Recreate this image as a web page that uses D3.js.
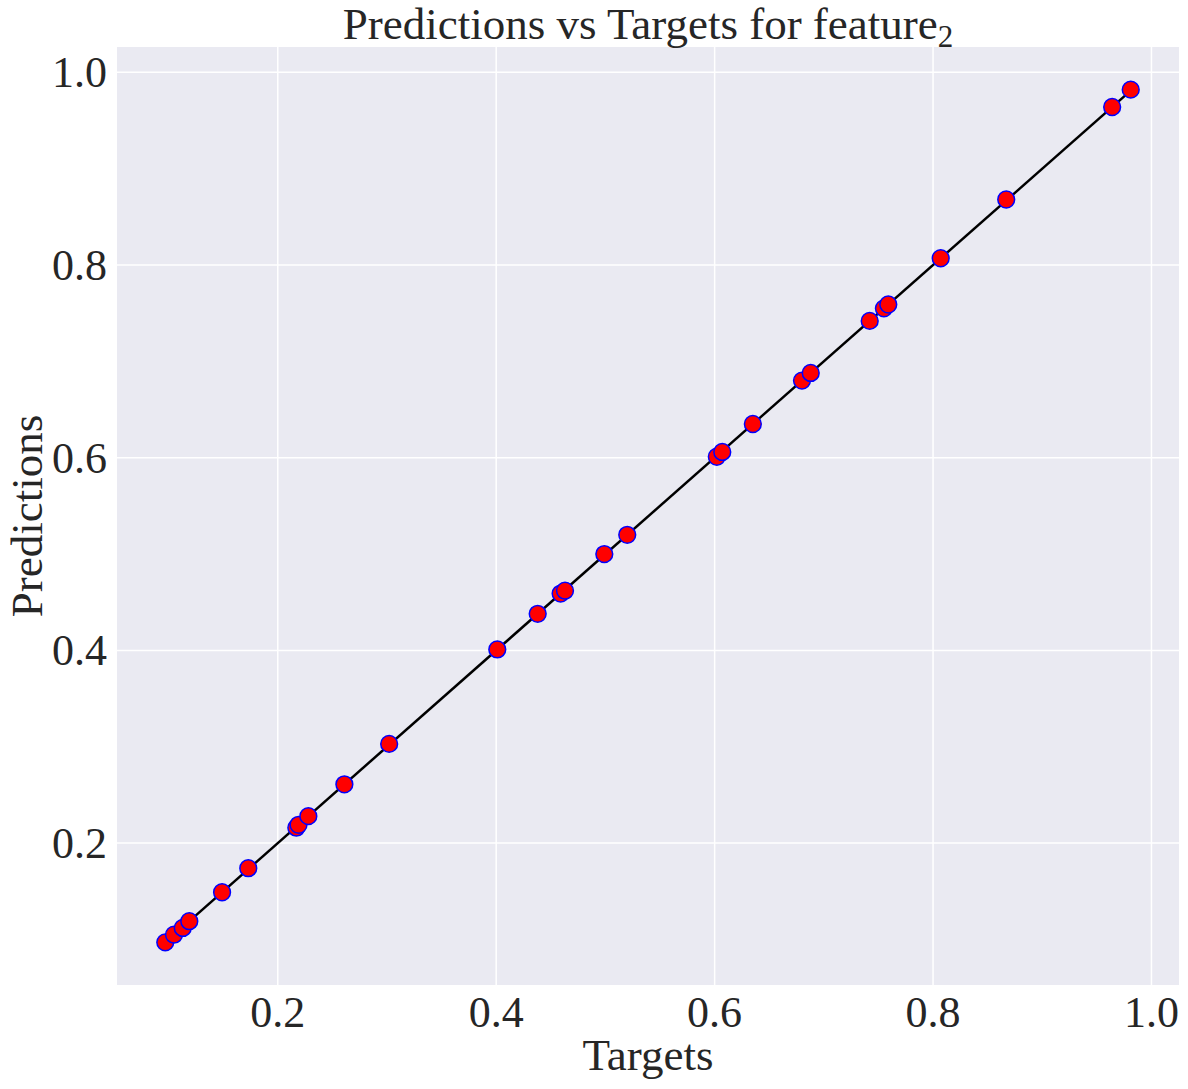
<!DOCTYPE html>
<html>
<head>
<meta charset="utf-8">
<script src="https://cdn.jsdelivr.net/npm/d3@7"></script>
<style>
  body { margin: 0; background: #fff; }
  text { font-family: "Liberation Serif", "DejaVu Serif", serif; fill: #262626; }
</style>
</head>
<body>
<div id="chart"></div>
<script>
// values
var targets = [0.097, 0.105, 0.113, 0.119, 0.149, 0.173, 0.217, 0.219, 0.228, 0.261,
  0.302, 0.401, 0.438, 0.459, 0.463, 0.499, 0.520, 0.602, 0.607, 0.635,
  0.680, 0.688, 0.742, 0.755, 0.759, 0.807, 0.867, 0.964, 0.981];
var predictions = [0.097, 0.105, 0.112, 0.119, 0.149, 0.174, 0.216, 0.219, 0.228, 0.261,
  0.303, 0.401, 0.438, 0.459, 0.462, 0.500, 0.520, 0.601, 0.606, 0.635,
  0.680, 0.688, 0.742, 0.755, 0.759, 0.807, 0.868, 0.964, 0.982];
var xTicks = [0.2, 0.4, 0.6, 0.8, 1.0];
var yTicks = [0.2, 0.4, 0.6, 0.8, 1.0];

var width = 1188, height = 1089;
var margin = {top: 47, right: 9, bottom: 104, left: 117};
var w = width - margin.left - margin.right;
var h = height - margin.top - margin.bottom;

var svg = d3.select("#chart").append("svg")
  .attr("width", width)
  .attr("height", height);

// matplotlib style 5% padding
var xExt = d3.extent(targets), yExt = d3.extent(predictions);
var xPad = (xExt[1] - xExt[0]) * 0.05, yPad = (yExt[1] - yExt[0]) * 0.05;

var x = d3.scaleLinear().domain([xExt[0] - xPad, xExt[1] + xPad]).range([0, w]);
var y = d3.scaleLinear().domain([yExt[0] - yPad, yExt[1] + yPad]).range([h, 0]);

var g = svg.append("g")
  .attr("transform", "translate(" + margin.left + "," + margin.top + ")");

g.append("rect")
  .attr("width", w)
  .attr("height", h)
  .attr("fill", "#eaeaf2");

// grid
g.selectAll(".vgrid").data(xTicks).enter().append("line")
  .attr("x1", function(d) { return x(d); })
  .attr("x2", function(d) { return x(d); })
  .attr("y1", 0).attr("y2", h)
  .attr("stroke", "#fff").attr("stroke-width", 1.5);

g.selectAll(".hgrid").data(yTicks).enter().append("line")
  .attr("y1", function(d) { return y(d); })
  .attr("y2", function(d) { return y(d); })
  .attr("x1", 0).attr("x2", w)
  .attr("stroke", "#fff").attr("stroke-width", 1.5);

// tick labels
g.selectAll(".xlab").data(xTicks).enter().append("text")
  .attr("x", function(d) { return x(d); })
  .attr("y", h + 42)
  .attr("text-anchor", "middle")
  .style("font-size", "44px")
  .text(function(d) { return d.toFixed(1); });

g.selectAll(".ylab").data(yTicks).enter().append("text")
  .attr("x", -10)
  .attr("y", function(d) { return y(d) + 15; })
  .attr("text-anchor", "end")
  .style("font-size", "44px")
  .text(function(d) { return d.toFixed(1); });

// identity line
var line = d3.line()
  .x(function(d) { return x(d); })
  .y(function(d) { return y(d); });

g.append("path")
  .datum(xExt)
  .attr("d", line)
  .attr("fill", "none")
  .attr("stroke", "#000")
  .attr("stroke-width", 2.5);

// points
g.selectAll("circle").data(targets).enter().append("circle")
  .attr("cx", function(d) { return x(d); })
  .attr("cy", function(d, i) { return y(predictions[i]); })
  .attr("r", 8.4)
  .attr("fill", "red")
  .attr("stroke", "blue")
  .attr("stroke-width", 1.5);

// title and axis labels
var title = svg.append("text")
  .attr("x", margin.left + w / 2)
  .attr("y", 39)
  .attr("text-anchor", "middle")
  .style("font-size", "45px");
title.append("tspan").text("Predictions vs Targets for feature");
title.append("tspan").attr("dy", 8).style("font-size", "31px").text("2");

svg.append("text")
  .attr("x", margin.left + w / 2)
  .attr("y", 1070)
  .attr("text-anchor", "middle")
  .style("font-size", "45px")
  .text("Targets");

svg.append("text")
  .attr("transform", "translate(42," + (margin.top + h / 2) + ") rotate(-90)")
  .attr("text-anchor", "middle")
  .style("font-size", "45px")
  .text("Predictions");
</script>
</body>
</html>
